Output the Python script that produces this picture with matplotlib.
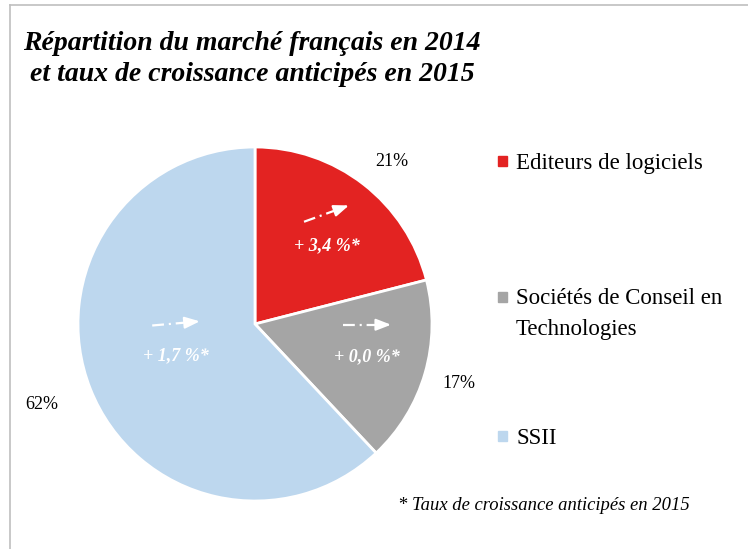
import numpy as np
import matplotlib
matplotlib.use("Agg")
import matplotlib.pyplot as plt
from matplotlib.lines import Line2D

# data
segments = ["Editeurs de logiciels", "Sociétés de Conseil en\nTechnologies", "SSII"]
shares = [21, 17, 62]
growth = [3.4, 0.0, 1.7]
colors = ["#E32322", "#A5A5A5", "#BDD7EE"]

title = "Répartition du marché français en 2014\net taux de croissance anticipés en 2015"
footnote = "* Taux de croissance anticipés en 2015"

SERIF = ["Liberation Serif", "DejaVu Serif"]
W, H = 748, 549

plt.rcParams["lines.scale_dashes"] = False


def fx(px):
    return px / W


def fy(py):
    return 1 - py / H


def main() -> None:
    fig = plt.figure(figsize=(W / 100, H / 100), dpi=100)

    # pie centred at (255, 324) px with radius 177 px
    cx, cy, r = 255, 324, 177
    ax = fig.add_axes([fx(cx - r), fy(cy + r), 2 * r / W, 2 * r / H])

    wedges, _ = ax.pie(shares, colors=colors, startangle=90, counterclock=False,
                       radius=1, wedgeprops=dict(edgecolor="white", linewidth=2))
    ax.set_xlim(-1, 1)
    ax.set_ylim(-1, 1)
    ax.axis("off")

    # percentage labels outside the slices, growth labels inside
    label_dist = [1.2, 1.2, 1.29]
    label_shift = [-2.4, 0, -1]
    inner_dist = [0.6, 0.66, 0.48]
    inner_shift = [-4.5, 0, 0]
    arrow_tilt = [20, 0, 5]
    for w, s, g, ld, sh, idist, ish, tilt in zip(wedges, shares, growth, label_dist,
                                                 label_shift, inner_dist, inner_shift,
                                                 arrow_tilt):
        mid = (w.theta1 + w.theta2) / 2
        ang = np.deg2rad(mid + sh)
        ax.text(ld * np.cos(ang), ld * np.sin(ang), f"{s}%",
                ha="center", va="center", fontsize=13, family=SERIF)
        ang = np.deg2rad(mid + ish)
        tx, ty = idist * np.cos(ang), idist * np.sin(ang)
        ax.text(tx, ty, f"+ {g:.1f} %*".replace(".", ","), ha="center",
                va="center", fontsize=13, color="white", fontweight="bold",
                style="italic", family=SERIF)
        # growth arrow above the growth label
        ay = ty + 0.18
        t = np.deg2rad(tilt)
        half = 0.135
        x0, y0 = tx - half * np.cos(t), ay - half * np.sin(t)
        x1, y1 = tx + half * np.cos(t), ay + half * np.sin(t)
        xm, ym = x0 + 0.75 * (x1 - x0), y0 + 0.75 * (y1 - y0)
        ax.plot([x0, xm], [y0, ym], color="white", lw=1.6,
                dashes=[8.5, 3.5, 1.5, 3.5], solid_capstyle="butt",
                dash_capstyle="butt")
        ax.annotate("", xy=(x1, y1), xytext=(xm - 0.01 * np.cos(t), ym - 0.01 * np.sin(t)),
                    arrowprops=dict(arrowstyle="-|>,head_length=0.9,head_width=0.35",
                                    color="white", lw=1.6, shrinkA=0, shrinkB=0))

    # title
    fig.text(fx(252), fy(59), title, ha="center", va="center", fontsize=20,
             style="italic", fontweight="bold", family=SERIF, linespacing=1.35)

    # legend placed by hand, square aligned to first line
    legend_y = [161, 297, 436]
    for seg, col, ly in zip(segments, colors, legend_y):
        fig.patches.append(plt.Rectangle((fx(498), fy(ly + 5)), 9 / W, 10 / H,
                                         transform=fig.transFigure, color=col))
        fig.text(fx(516), fy(ly - 8.5), seg, ha="left", va="top", fontsize=16.5,
                 family=SERIF, linespacing=1.6)

    fig.text(fx(398), fy(505), footnote, ha="left", va="center", fontsize=13.4,
             style="italic", family=SERIF)

    # frame lines on top and left
    fig.add_artist(Line2D([fx(10), 1], [fy(5), fy(5)], color="#BFBFBF", lw=1.2))
    fig.add_artist(Line2D([fx(10), fx(10)], [fy(5), 0], color="#BFBFBF", lw=1.2))

    fig.savefig("out.png", dpi=100, facecolor="white")


if __name__ == "__main__":
    main()
